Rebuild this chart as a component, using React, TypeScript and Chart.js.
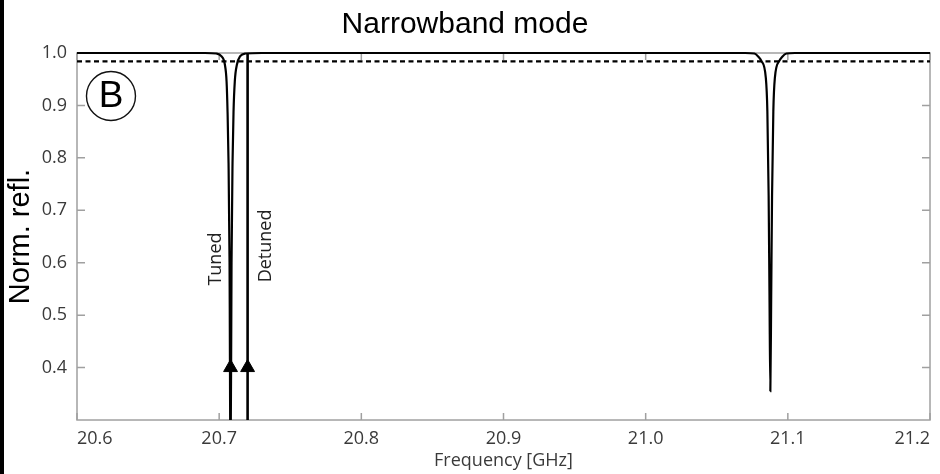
import React, { useEffect, useRef } from 'react';
import { Chart, registerables } from 'chart.js';

Chart.register(...registerables);

// ---- data ----
const xTickValues = [20.6, 20.7, 20.8, 20.9, 21.0, 21.1, 21.2];
const yTickValues = [0.4, 0.5, 0.6, 0.7, 0.8, 0.9, 1.0];

// normalized reflection spectrum (tuned resonance + second mode)
const freqGHz = [
  20.6, 20.69, 20.698, 20.7015, 20.704, 20.7052, 20.7059, 20.7066, 20.7073, 20.708,
  20.7087, 20.7094, 20.7101, 20.711, 20.7125, 20.7148, 20.7185, 20.73,
  21.07, 21.0765, 21.0793, 21.0814, 21.0845, 21.0856, 21.0865, 21.0871, 21.0877,
  21.0883, 21.0889, 21.0898, 21.0909, 21.094, 21.0961, 21.099, 21.105, 21.2,
];
const normRefl = [
  1.0, 1.0, 0.999, 0.994, 0.978, 0.946, 0.888, 0.79, 0.6, 0.2,
  0.6, 0.79, 0.888, 0.946, 0.978, 0.994, 0.999, 1.0,
  1.0, 0.999, 0.993, 0.985, 0.953, 0.889, 0.728, 0.537, 0.355,
  0.537, 0.728, 0.889, 0.953, 0.985, 0.993, 0.999, 1.0, 1.0,
];

const detunedFreq = [20.72, 20.72];
const detunedRefl = [0.3, 1.0];

const arrowFreq = [20.708, 20.72];
const arrowRefl = [0.4, 0.4];

const thresholdFreq = [20.6, 21.2];
const thresholdRefl = [0.984, 0.984];

const labelTexts = ['Tuned', 'Detuned'];
const labelFreq = [20.698, 20.7328];
const labelRefl = [0.607, 0.632];

const panelText = 'B';
const panelFreq = 20.6239;
const panelRefl = 0.918;

const pts = (xs: number[], ys: number[]) => xs.map((x, i) => ({ x, y: ys[i] }));

const tickFont = { family: "'Open Sans', 'DejaVu Sans', sans-serif", size: 18 };
const tickColor = '#3a3a3a';
const frameColor = '#a0a0a0';

const framePlugin = {
  id: 'frameTicks',
  beforeDatasetsDraw(chart: any) {
    const { ctx, chartArea: a, scales } = chart;
    ctx.save();
    ctx.strokeStyle = frameColor;
    ctx.lineWidth = 1.5;
    ctx.strokeRect(a.left, a.top, a.right - a.left, a.bottom - a.top);
    ctx.beginPath();
    xTickValues.forEach((v) => {
      const px = scales.x.getPixelForValue(v);
      ctx.moveTo(px, a.bottom);
      ctx.lineTo(px, a.bottom - 7);
      ctx.moveTo(px, a.top);
      ctx.lineTo(px, a.top + 7);
    });
    yTickValues.forEach((v) => {
      const py = scales.y.getPixelForValue(v);
      ctx.moveTo(a.left, py);
      ctx.lineTo(a.left + 8, py);
      ctx.moveTo(a.right, py);
      ctx.lineTo(a.right - 8, py);
    });
    ctx.stroke();
    ctx.restore();
  },
  afterDatasetsDraw(chart: any) {
    const { ctx, scales } = chart;
    ctx.save();
    ctx.fillStyle = '#222';
    ctx.font = "18px 'Open Sans', 'DejaVu Sans', sans-serif";
    ctx.textAlign = 'center';
    ctx.textBaseline = 'middle';
    labelTexts.forEach((t, i) => {
      const px = scales.x.getPixelForValue(labelFreq[i]);
      const py = scales.y.getPixelForValue(labelRefl[i]);
      ctx.save();
      ctx.translate(px, py);
      ctx.rotate(-Math.PI / 2);
      ctx.fillText(t, 0, 0);
      ctx.restore();
    });
    // panel label
    const cx = scales.x.getPixelForValue(panelFreq);
    const cy = scales.y.getPixelForValue(panelRefl);
    ctx.beginPath();
    ctx.arc(cx, cy, 24.5, 0, Math.PI * 2);
    ctx.strokeStyle = '#111';
    ctx.lineWidth = 1.4;
    ctx.stroke();
    ctx.fillStyle = '#000';
    ctx.font = "37px 'Liberation Sans Narrow', 'Liberation Sans', Arial, sans-serif";
    ctx.fillText(panelText, cx, cy + 1);
    ctx.restore();
  },
};

export default function App() {
  const ref = useRef<HTMLCanvasElement | null>(null);

  useEffect(() => {
    if (!ref.current) return;
    const chart = new Chart(ref.current, {
      type: 'line',
      data: {
        datasets: [
          {
            label: 'Threshold',
            data: pts(thresholdFreq, thresholdRefl),
            borderColor: '#000',
            borderWidth: 2.4,
            borderDash: [5, 3.5],
            pointRadius: 0,
          },
          {
            label: 'Reflection',
            data: pts(freqGHz, normRefl),
            borderColor: '#000',
            borderWidth: 2.2,
            pointRadius: 0,
            cubicInterpolationMode: 'monotone',
            clip: { left: 0, top: 4, right: 0, bottom: 0 } as any,
          },
          {
            label: 'Detuned',
            data: pts(detunedFreq, detunedRefl),
            borderColor: '#000',
            borderWidth: 2.6,
            pointRadius: 0,
            clip: { left: 0, top: 4, right: 0, bottom: 0 } as any,
          },
          {
            label: 'Arrows',
            data: pts(arrowFreq, arrowRefl),
            showLine: false,
            pointStyle: 'triangle',
            pointRadius: 8,
            pointBackgroundColor: '#000',
            pointBorderColor: '#000',
            pointBorderWidth: 1,
          },
        ],
      },
      options: {
        animation: false,
        responsive: true,
        maintainAspectRatio: false,
        layout: { padding: { left: 0, right: 10, top: 0, bottom: 0 } },
        plugins: {
          legend: { display: false },
          tooltip: { enabled: false },
          title: {
            display: true,
            text: 'Narrowband mode',
            color: '#000',
            font: { family: "'Liberation Sans', Arial, sans-serif", size: 30, weight: 'normal' },
            padding: { top: 7, bottom: 10 },
          },
        },
        scales: {
          x: {
            type: 'linear',
            min: 20.6,
            max: 21.2,
            grid: { display: false, drawTicks: false },
            border: { display: false },
            afterBuildTicks: (s: any) => {
              s.ticks = xTickValues.map((v) => ({ value: v }));
            },
            afterFit: (s: any) => {
              s.height = 54;
            },
            ticks: {
              font: tickFont,
              color: tickColor,
              padding: 8,
              align: 'inner',
              maxRotation: 0,
              autoSkip: false,
              callback: (v: any) => Number(v).toFixed(1),
            },
            title: {
              display: true,
              text: 'Frequency [GHz]',
              color: tickColor,
              font: tickFont,
              padding: { top: 0, bottom: 2 },
            },
          },
          y: {
            type: 'linear',
            min: 0.3,
            max: 1.0,
            grid: { display: false, drawTicks: false },
            border: { display: false },
            afterBuildTicks: (s: any) => {
              s.ticks = yTickValues.map((v) => ({ value: v }));
            },
            afterFit: (s: any) => {
              s.width = 77;
            },
            ticks: {
              font: tickFont,
              color: tickColor,
              padding: 10,
              autoSkip: false,
              callback: (v: any) => Number(v).toFixed(1),
            },
            title: {
              display: true,
              text: 'Norm. refl.',
              color: '#000',
              font: { family: "'Liberation Sans', Arial, sans-serif", size: 29, weight: 'normal' },
              padding: { top: 4, bottom: 0 },
            },
          },
        },
      },
      plugins: [framePlugin],
    } as any);
    return () => chart.destroy();
  }, []);

  return (
    <div style={{ position: 'fixed', left: 0, top: 0, width: 940, height: 474, background: '#fff' }}>
      <canvas ref={ref} />
      <div style={{ position: 'absolute', left: 0, top: 0, width: 4, height: 474, background: '#000' }} />
    </div>
  );
}
